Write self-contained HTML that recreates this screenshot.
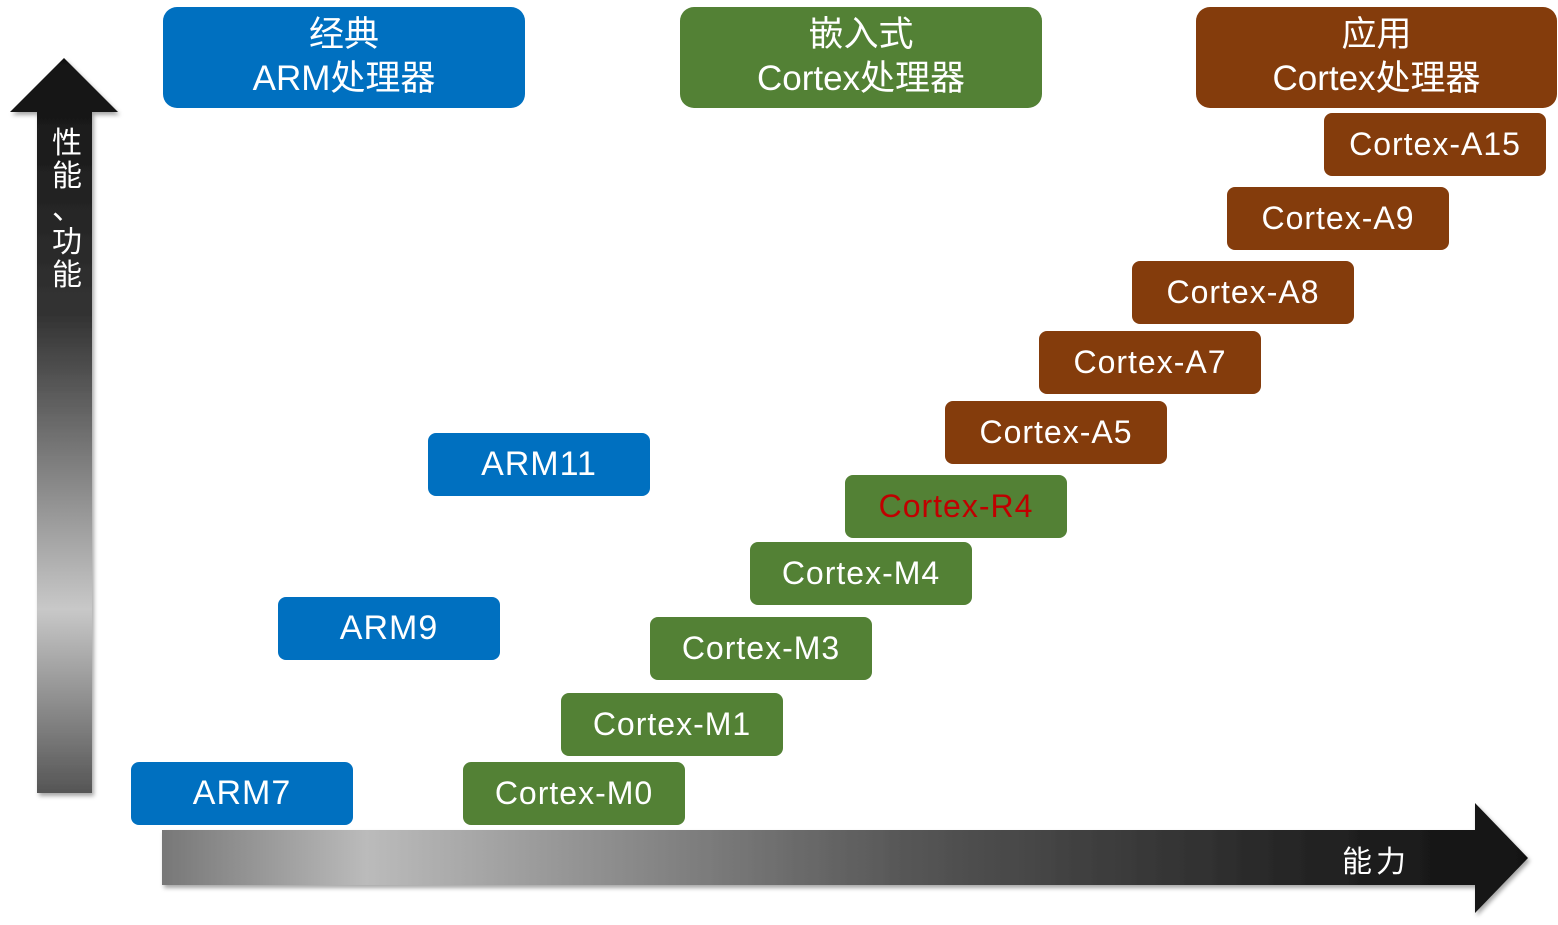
<!DOCTYPE html>
<html><head><meta charset="utf-8"><style>
body{margin:0;width:1558px;height:925px;background:#fff;position:relative;overflow:hidden;font-family:"Liberation Sans","Noto Sans CJK SC",sans-serif}
.b{position:absolute;width:222px;height:63px;border-radius:8px;color:#fff;font-size:32px;line-height:63px;text-align:center;letter-spacing:1px}
.bl{background:#0070c0}.g{background:#538135}.r{background:#843c0c}
.t{position:absolute;top:7px;width:362px;height:101px;border-radius:14px;color:#fff;font-size:35px;line-height:44px;text-align:center;padding-top:6px;box-sizing:border-box}
.lbl{position:absolute;color:#fff;font-family:"Noto Sans CJK SC",sans-serif;font-size:30px}
</style></head><body>
<svg width="1558" height="925" style="position:absolute;left:0;top:0">
<defs>
<linearGradient id="v" x1="0" y1="0" x2="0" y2="1">
<stop offset="0" stop-color="#111"/><stop offset="0.35" stop-color="#333"/><stop offset="0.75" stop-color="#c8c8c8"/><stop offset="1" stop-color="#555"/></linearGradient>
<linearGradient id="h" x1="0" y1="0" x2="1" y2="0">
<stop offset="0" stop-color="#777"/><stop offset="0.15" stop-color="#bbb"/><stop offset="0.55" stop-color="#555"/><stop offset="0.85" stop-color="#222"/><stop offset="1" stop-color="#111"/></linearGradient>
<filter id="s"><feDropShadow dx="2" dy="3" stdDeviation="2" flood-opacity="0.35"/></filter>
</defs>
<polygon filter="url(#s)" fill="url(#v)" points="64,58 118,112 92,112 92,793 37,793 37,112 10,112"/>
<polygon filter="url(#s)" fill="url(#h)" points="162,830 1475,830 1475,803 1528,858 1475,913 1475,885 162,885"/>
</svg>
<div class="lbl" style="left:52px;top:124px;width:34px;line-height:33px">性<br>能<br>、<br>功<br>能</div>
<div class="lbl" style="left:1342px;top:837px;letter-spacing:4px">能力</div>
<div class="t bl" style="left:163px">经典<br>ARM处理器</div>
<div class="t g" style="left:680px">嵌入式<br>Cortex处理器</div>
<div class="t r" style="left:1196px;width:361px">应用<br>Cortex处理器</div>
<div class="b r" style="left:1324px;top:113px">Cortex-A15</div>
<div class="b r" style="left:1227px;top:187px">Cortex-A9</div>
<div class="b r" style="left:1132px;top:261px">Cortex-A8</div>
<div class="b r" style="left:1039px;top:331px">Cortex-A7</div>
<div class="b r" style="left:945px;top:401px">Cortex-A5</div>
<div class="b g" style="left:845px;top:475px;color:#c00000">Cortex-R4</div>
<div class="b g" style="left:750px;top:542px">Cortex-M4</div>
<div class="b g" style="left:650px;top:617px">Cortex-M3</div>
<div class="b g" style="left:561px;top:693px">Cortex-M1</div>
<div class="b g" style="left:463px;top:762px">Cortex-M0</div>
<div class="b bl" style="left:428px;top:433px;font-size:34px">ARM11</div>
<div class="b bl" style="left:278px;top:597px;font-size:34px">ARM9</div>
<div class="b bl" style="left:131px;top:762px;font-size:34px">ARM7</div>
</body></html>
